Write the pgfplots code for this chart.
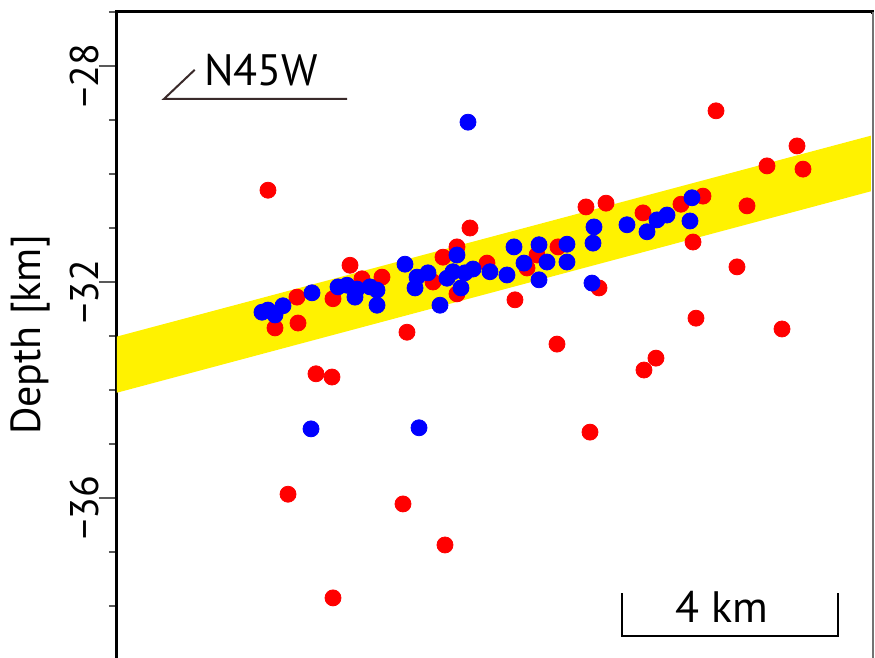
\documentclass[border=0pt]{standalone}
\usepackage{fontspec}
\setmainfont{PT Sans}
\usepackage{pgfplots}
\pgfplotsset{compat=1.18}
\definecolor{annot}{HTML}{3A2A2A}
\begin{document}
\begin{tikzpicture}
\useasboundingbox (-58.5pt,6pt) rectangle (379pt,-323pt);
\clip (-58.5pt,6pt) rectangle (379pt,-323pt);
\begin{axis}[
  at={(0pt,0pt)}, anchor=north west,
  scale only axis, width=378pt, height=351pt,
  xmin=0, xmax=14, ymin=-40, ymax=-27,
  xtick=\empty,
  ytick={-28,-32,-36},
  yticklabels={−28,−32,−36},
  minor ytick={-39,-38,...,-27},
  ytick pos=left,
  tick align=outside,
  major tick length=9pt, minor tick length=4pt,
  every tick/.style={black!65, line width=1pt},
  yticklabel style={rotate=90, anchor=south, font=\fontsize{20}{24}\selectfont, inner sep=0pt, xshift=-5pt},
  axis line style={line width=1.5pt},
  clip=false,
]
\addplot[fill=yellow, draw=none] coordinates {(0,-33.01) (14,-29.28) (14,-30.31) (0,-34.05)} -- cycle;
% red events
\addplot[only marks, mark=*, mark size=4pt, color=red, mark options={draw=none, fill=red}] coordinates {
(2.796,-30.30) (11.093,-28.83) (12.593,-29.48) (12.704,-29.91) (12.037,-29.85)
(11.667,-30.59) (10.852,-30.41) (10.444,-30.56) (9.741,-30.72) (9.056,-30.54)
(8.685,-30.61) (10.667,-31.26) (11.481,-31.72) (8.926,-32.11) (10.722,-32.67)
(12.315,-32.87) (9.759,-33.63) (9.981,-33.41) (8.759,-34.78) (8.148,-33.15)
(7.370,-32.33) (8.167,-31.35) (7.593,-31.74) (7.778,-31.50) (6.852,-31.65)
(6.537,-31.00) (6.296,-31.35) (6.037,-31.54) (5.852,-32.00) (6.296,-32.22)
(5.370,-32.93) (4.315,-31.69) (4.537,-31.94) (4.907,-31.91) (4.000,-32.31)
(3.333,-32.28) (2.926,-32.85) (3.352,-32.76) (3.685,-33.70) (3.981,-33.76)
(3.167,-35.93) (5.296,-36.11) (6.074,-36.87) (4.000,-37.85)
};
% blue events
\addplot[only marks, mark=*, mark size=4pt, color=blue, mark options={draw=none, fill=blue}] coordinates {
(6.500,-29.04) (10.648,-30.44) (10.611,-30.87) (10.185,-30.76) (10.000,-30.85)
(9.815,-31.07) (9.444,-30.94) (8.833,-30.98) (8.815,-31.28) (8.333,-31.30)
(8.333,-31.63) (8.796,-32.02) (7.815,-31.31) (7.352,-31.35) (7.963,-31.63)
(7.537,-31.65) (7.815,-31.96) (7.222,-31.87) (6.907,-31.81) (6.593,-31.76)
(6.444,-31.83) (6.222,-31.81) (6.111,-31.93) (6.296,-31.50) (6.370,-32.11)
(5.981,-32.43) (5.759,-31.83) (5.556,-31.91) (5.519,-32.11) (5.333,-31.67)
(4.815,-32.15) (4.815,-32.43) (4.685,-32.09) (4.444,-32.13) (4.407,-32.28)
(4.259,-32.06) (4.093,-32.09) (3.611,-32.20) (3.074,-32.44) (2.796,-32.52)
(2.926,-32.61) (2.685,-32.56) (3.593,-34.72) (5.593,-34.70)
};
% right spine (thin, grey)
\draw[white, line width=1.6pt] (axis cs:14,-27.03) -- (axis cs:14,-40);
\draw[black!55, line width=0.9pt] (axis cs:14,-27) -- (axis cs:14,-40);
% N45W strike marker
\draw[annot, line width=1pt] (axis cs:1.44,-28.07) -- (axis cs:0.87,-28.61) -- (axis cs:4.26,-28.61);
\node[font=\fontsize{22}{26}\selectfont, inner sep=0pt] at (axis cs:2.67,-28.07) {N45W};
% scale bar
\draw[black, line width=1pt] (axis cs:9.35,-37.76) -- (axis cs:9.35,-38.56) -- (axis cs:13.35,-38.56) -- (axis cs:13.35,-37.76);
\node[font=\fontsize{22}{26}\selectfont, anchor=base, inner sep=0pt] at (axis cs:11.2,-38.30) {4 km};
\end{axis}
\node[rotate=90, font=\fontsize{21}{25}\selectfont] at (-43.5pt,-161.5pt) {Depth [km]};
\end{tikzpicture}
\end{document}
